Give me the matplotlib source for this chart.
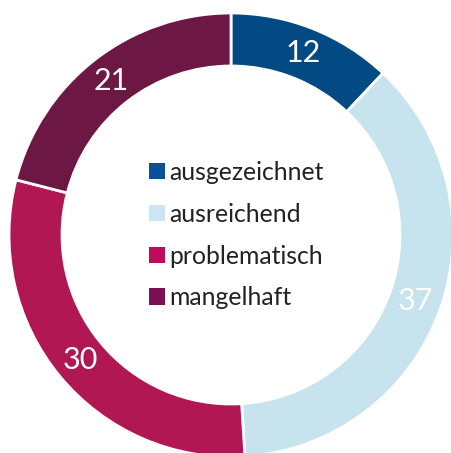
import matplotlib
matplotlib.use("Agg")
import matplotlib.pyplot as plt
from matplotlib.patches import Patch

categories = ["ausgezeichnet", "ausreichend", "problematisch", "mangelhaft"]
values = [12, 37, 30, 21]
ring_colors = ["#034a85", "#c7e3ee", "#b01753", "#6d1745"]
legend_colors = ["#0a4f9c", "#c9e5f6", "#c10a5b", "#7a0f53"]

plt.rcParams['font.family'] = ['Lato', 'DejaVu Sans']

W, H = 451, 453
fig = plt.figure(figsize=(W / 100, H / 100), dpi=100)
ax = fig.add_axes([0, 0, 1, 1])

R = 222
cx, cy = 231, H - 235
wedges, texts, autotexts = ax.pie(
    values, radius=R, center=(cx, cy), startangle=90, counterclock=False,
    colors=ring_colors,
    wedgeprops=dict(width=53, edgecolor="white", linewidth=2),
    autopct=lambda p: f"{p:.0f}", pctdistance=(R - 26.5) / R,
    textprops=dict(color="white", fontsize=22, fontweight="normal"),
)
ax.set_xlim(0, W)
ax.set_ylim(0, H)
ax.set_aspect("equal")
ax.axis("off")

handles = [Patch(facecolor=c, edgecolor="none") for c in legend_colors]
leg = ax.legend(handles, categories, loc="center", bbox_to_anchor=(0.524, 0.481),
                bbox_transform=fig.transFigure, frameon=False, fontsize=17.8,
                handlelength=0.65, handleheight=0.65, handletextpad=0.2,
                labelspacing=0.76, borderpad=0)
for t in leg.get_texts():
    t.set_color("#222222")

fig.savefig("out.png", dpi=100)
